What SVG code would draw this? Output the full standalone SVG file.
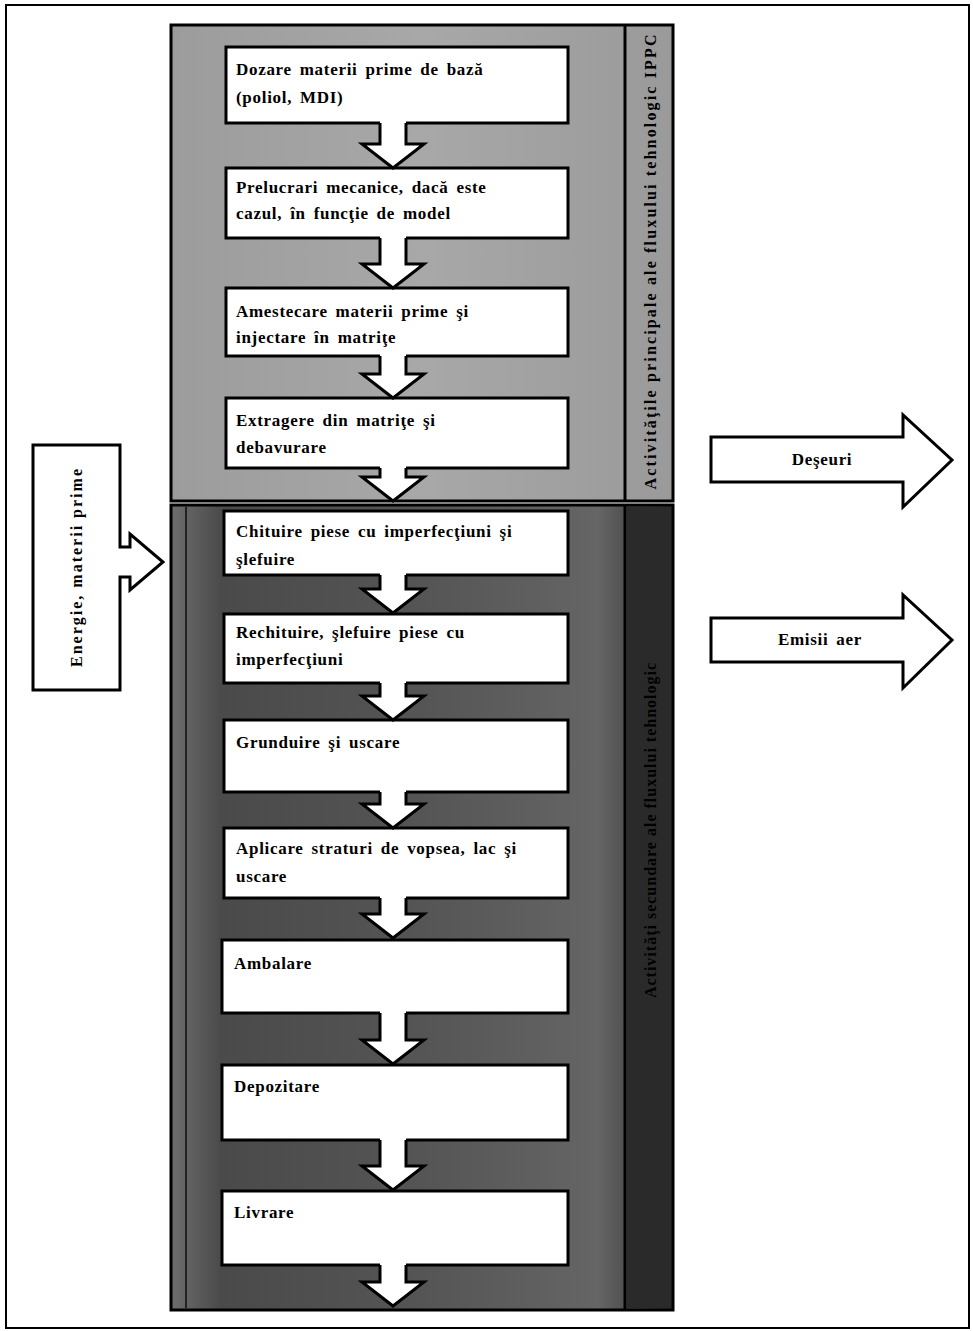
<svg xmlns="http://www.w3.org/2000/svg" width="973" height="1331" viewBox="0 0 973 1331">
<style>
.box{fill:#fff;stroke:#000;stroke-width:3}
.t{font-family:"Liberation Serif","Times New Roman",serif;font-weight:bold;font-size:17px;letter-spacing:0.7px;word-spacing:3px;fill:#000}
.vt{font-family:"Liberation Serif","Times New Roman",serif;font-weight:bold;font-size:16px;fill:#000}
.af{fill:#fff;stroke:none}
.ao{fill:none;stroke:#000;stroke-width:3;stroke-linejoin:miter}
.blk{fill:#fff;stroke:#000;stroke-width:3;stroke-linejoin:miter}
</style>
<defs>
<linearGradient id="gUp" x1="0" y1="0" x2="1" y2="0">
<stop offset="0" stop-color="#9c9c9c"/><stop offset="0.5" stop-color="#a8a8a8"/><stop offset="1" stop-color="#9a9a9a"/>
</linearGradient>
<linearGradient id="gLo" x1="0" y1="0" x2="1" y2="0">
<stop offset="0" stop-color="#6e6e6e"/><stop offset="0.1" stop-color="#4a4a4a"/><stop offset="0.5" stop-color="#555"/><stop offset="0.85" stop-color="#656565"/><stop offset="1" stop-color="#2e2e2e"/>
</linearGradient>
</defs>
<rect x="0" y="0" width="973" height="1331" fill="#fff"/>
<rect x="6" y="5" width="963" height="1323" fill="none" stroke="#000" stroke-width="2"/>

<g id="panel-upper">
<rect x="171" y="25" width="502" height="476" fill="url(#gUp)" stroke="#000" stroke-width="3"/>
<line x1="625" y1="25" x2="625" y2="501" stroke="#000" stroke-width="3"/>
<text class="vt" transform="translate(656,262) rotate(-90)" text-anchor="middle" textLength="455" lengthAdjust="spacing">Activităţile principale ale fluxului tehnologic IPPC</text>
</g>
<g id="panel-lower">
<rect x="171" y="505" width="502" height="805" fill="url(#gLo)" stroke="#000" stroke-width="3"/>
<line x1="186" y1="507" x2="186" y2="1308" stroke="#222" stroke-width="2"/>
<line x1="625" y1="505" x2="625" y2="1310" stroke="#000" stroke-width="3"/>
<rect x="626" y="507" width="45" height="801" fill="#2a2a2a"/>
<text class="vt" transform="translate(656,830) rotate(-90)" text-anchor="middle" letter-spacing="1">Activităţi secundare ale fluxului tehnologic</text>
</g>

<g id="n1"><rect class="box" x="226" y="47" width="342" height="76"/>
<text class="t" x="236" y="75">Dozare materii prime de bază</text><text class="t" x="236" y="103">(poliol, MDI)</text></g>
<g id="n2"><rect class="box" x="226" y="168" width="342" height="70"/>
<text class="t" x="236" y="193">Prelucrari mecanice, dacă este</text><text class="t" x="236" y="219">cazul, în funcţie de model</text></g>
<g id="n3"><rect class="box" x="226" y="288" width="342" height="68"/>
<text class="t" x="236" y="317">Amestecare materii prime şi</text><text class="t" x="236" y="343">injectare în matriţe</text></g>
<g id="n4"><rect class="box" x="226" y="398" width="342" height="70"/>
<text class="t" x="236" y="426">Extragere din matriţe şi</text><text class="t" x="236" y="453">debavurare</text></g>
<g id="n5"><rect class="box" x="224" y="511" width="344" height="64"/>
<text class="t" x="236" y="537">Chituire piese cu imperfecţiuni şi</text><text class="t" x="236" y="565">şlefuire</text></g>
<g id="n6"><rect class="box" x="224" y="614" width="344" height="69"/>
<text class="t" x="236" y="638">Rechituire, şlefuire piese cu</text><text class="t" x="236" y="665">imperfecţiuni</text></g>
<g id="n7"><rect class="box" x="224" y="720" width="344" height="72"/>
<text class="t" x="236" y="748">Grunduire şi uscare</text></g>
<g id="n8"><rect class="box" x="224" y="828" width="344" height="70"/>
<text class="t" x="236" y="854">Aplicare straturi de vopsea, lac şi</text><text class="t" x="236" y="882">uscare</text></g>
<g id="n9"><rect class="box" x="222" y="940" width="346" height="73"/>
<text class="t" x="234" y="969">Ambalare</text></g>
<g id="n10"><rect class="box" x="222" y="1065" width="346" height="75"/>
<text class="t" x="234" y="1092">Depozitare</text></g>
<g id="n11"><rect class="box" x="222" y="1191" width="346" height="74"/>
<text class="t" x="234" y="1218">Livrare</text></g>

<g id="connectors">
<polygon class="af" points="380,120 406,120 406,144 424,144 393,168 362,144 380,144"/>
<polyline class="ao" points="380,123 380,144 362,144 393,168 424,144 406,144 406,123"/>
<polygon class="af" points="380,235 406,235 406,264 424,264 393,288 362,264 380,264"/>
<polyline class="ao" points="380,238 380,264 362,264 393,288 424,264 406,264 406,238"/>
<polygon class="af" points="380,353 406,353 406,374 424,374 393,398 362,374 380,374"/>
<polyline class="ao" points="380,356 380,374 362,374 393,398 424,374 406,374 406,356"/>
<polygon class="af" points="380,465 406,465 406,477 424,477 393,501 362,477 380,477"/>
<polyline class="ao" points="380,468 380,477 362,477 393,501 424,477 406,477 406,468"/>
<polygon class="af" points="380,572 406,572 406,589 424,589 393,613 362,589 380,589"/>
<polyline class="ao" points="380,575 380,589 362,589 393,613 424,589 406,589 406,575"/>
<polygon class="af" points="380,680 406,680 406,696 424,696 393,720 362,696 380,696"/>
<polyline class="ao" points="380,683 380,696 362,696 393,720 424,696 406,696 406,683"/>
<polygon class="af" points="380,789 406,789 406,804 424,804 393,828 362,804 380,804"/>
<polyline class="ao" points="380,792 380,804 362,804 393,828 424,804 406,804 406,792"/>
<polygon class="af" points="380,895 406,895 406,914 424,914 393,938 362,914 380,914"/>
<polyline class="ao" points="380,898 380,914 362,914 393,938 424,914 406,914 406,898"/>
<polygon class="af" points="380,1010 406,1010 406,1040 424,1040 393,1064 362,1040 380,1040"/>
<polyline class="ao" points="380,1013 380,1040 362,1040 393,1064 424,1040 406,1040 406,1013"/>
<polygon class="af" points="380,1137 406,1137 406,1166 424,1166 393,1190 362,1166 380,1166"/>
<polyline class="ao" points="380,1140 380,1166 362,1166 393,1190 424,1166 406,1166 406,1140"/>
<polygon class="af" points="380,1262 406,1262 406,1282 424,1282 393,1306 362,1282 380,1282"/>
<polyline class="ao" points="380,1265 380,1282 362,1282 393,1306 424,1282 406,1282 406,1265"/>
</g>

<g id="input-energie">
<path class="blk" d="M33,445 H120 V547 H130 V534 L163,562 L130,590 V577 H120 V690 H33 Z"/>
<text class="vt" transform="translate(82,568) rotate(-90)" text-anchor="middle" textLength="198" lengthAdjust="spacing">Energie, materii prime</text>
</g>
<g id="output-deseuri">
<path class="blk" d="M711,437 H903 V415 L952,460 L903,507 V482 H711 Z"/>
<text class="t" x="822" y="465" text-anchor="middle" font-size="16">Deşeuri</text>
</g>
<g id="output-emisii">
<path class="blk" d="M711,618 H903 V595 L952,640 L903,688 V662 H711 Z"/>
<text class="t" x="820" y="645" text-anchor="middle" font-size="16">Emisii aer</text>
</g>
</svg>
